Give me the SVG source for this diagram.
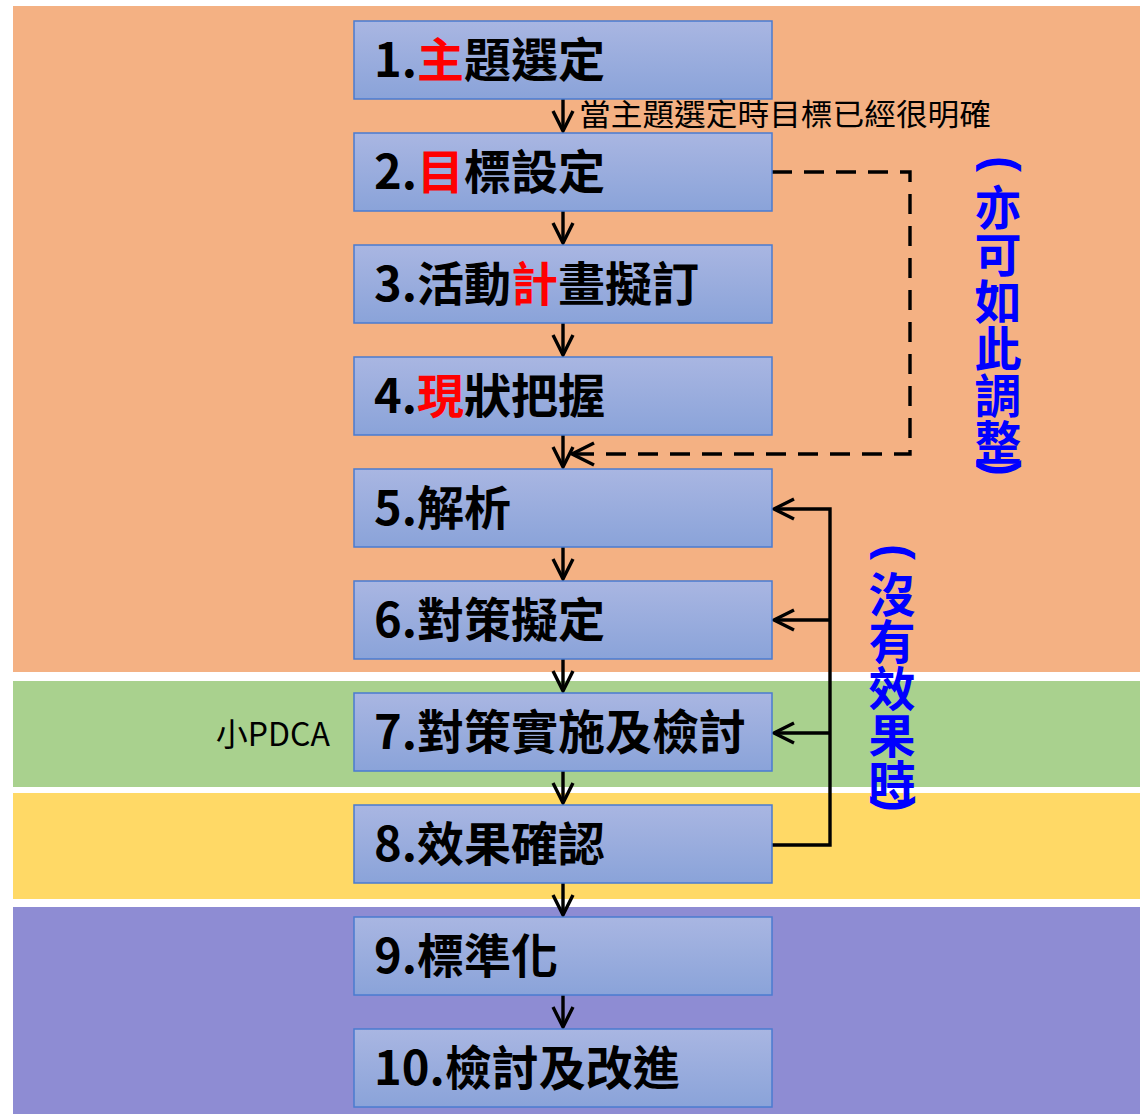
<svg xmlns="http://www.w3.org/2000/svg" width="1140" height="1114" viewBox="0 0 1140 1114">
<defs>
<linearGradient id="boxg" x1="0" y1="0" x2="0" y2="1">
<stop offset="0" stop-color="#a9b6e2"/>
<stop offset="1" stop-color="#8aa3d9"/>
</linearGradient>
<marker id="arr" viewBox="-24 -14 28 28" markerWidth="28" markerHeight="28" refX="0" refY="0" orient="auto" markerUnits="userSpaceOnUse">
<path d="M-20 -10 L0 0 L-20 10" fill="none" stroke="#000" stroke-width="3.4" stroke-dasharray="none" stroke-linejoin="miter"/>
</marker>
<marker id="arrd" viewBox="-26 -14 30 28" markerWidth="30" markerHeight="28" refX="0" refY="0" orient="auto" markerUnits="userSpaceOnUse">
<path d="M-22 -11 L0 0 L-22 11" fill="none" stroke="#000" stroke-width="3.4" stroke-dasharray="none"/>
</marker>
</defs>
<style>
.box{fill:url(#boxg);stroke:#4a7bd0;stroke-width:1.5}
.lbl{font-family:"Noto Sans CJK TC","Noto Sans CJK SC",sans-serif;font-size:47px;font-weight:700;fill:#000}
.red{fill:#ff0000}
.note{font-family:"Noto Sans CJK TC","Noto Sans CJK SC",sans-serif;font-size:30px;fill:#000}
.pdca{font-family:"Noto Sans CJK TC","Noto Sans CJK SC",sans-serif;font-size:32px;fill:#000}
.vt{font-family:"Noto Sans CJK TC","Noto Sans CJK SC",sans-serif;font-size:47px;font-weight:700;fill:#0000ff;writing-mode:vertical-rl}
.par{font-family:"Liberation Sans",Arial,sans-serif;font-size:48px;font-weight:700;fill:#0000ff}
.ln{fill:none;stroke:#000;stroke-width:3.4}
</style>
<rect width="1140" height="1114" fill="#ffffff"/>
<g id="bands">
<rect x="13" y="6" width="1127" height="666" fill="#f4b183"/>
<rect x="13" y="681" width="1127" height="106" fill="#a9d18e"/>
<rect x="13" y="793" width="1127" height="106" fill="#ffd966"/>
<rect x="13" y="907" width="1127" height="207" fill="#8e8cd3"/>
</g>
<g id="connectors">
<path class="ln" d="M563 99 V131" marker-end="url(#arr)"/>
<path class="ln" d="M563 211 V243" marker-end="url(#arr)"/>
<path class="ln" d="M563 323 V355" marker-end="url(#arr)"/>
<path class="ln" d="M563 435 V467" marker-end="url(#arr)"/>
<path class="ln" d="M563 547 V579" marker-end="url(#arr)"/>
<path class="ln" d="M563 659 V691" marker-end="url(#arr)"/>
<path class="ln" d="M563 771 V803" marker-end="url(#arr)"/>
<path class="ln" d="M563 883 V915" marker-end="url(#arr)"/>
<path class="ln" d="M563 995 V1027" marker-end="url(#arr)"/>
<path class="ln" d="M772 172 H910 V454 H572" stroke-dasharray="20 12" marker-end="url(#arrd)"/>
<path class="ln" d="M772 845 H830 V509 H774" stroke-width="3.8" marker-end="url(#arr)"/>
<path class="ln" d="M830 620 H774" stroke-width="3.8" marker-end="url(#arr)"/>
<path class="ln" d="M830 733 H774" stroke-width="3.8" marker-end="url(#arr)"/>
</g>
<g id="n1"><rect class="box" x="354" y="21" width="418" height="78"/><text class="lbl" x="374" y="77">1.<tspan class="red">主</tspan>題選定</text></g>
<g id="n2"><rect class="box" x="354" y="133" width="418" height="78"/><text class="lbl" x="374" y="189">2.<tspan class="red">目</tspan>標設定</text></g>
<g id="n3"><rect class="box" x="354" y="245" width="418" height="78"/><text class="lbl" x="374" y="301">3.活動<tspan class="red">計</tspan>畫擬訂</text></g>
<g id="n4"><rect class="box" x="354" y="357" width="418" height="78"/><text class="lbl" x="374" y="413">4.<tspan class="red">現</tspan>狀把握</text></g>
<g id="n5"><rect class="box" x="354" y="469" width="418" height="78"/><text class="lbl" x="374" y="525">5.解析</text></g>
<g id="n6"><rect class="box" x="354" y="581" width="418" height="78"/><text class="lbl" x="374" y="637">6.對策擬定</text></g>
<g id="n7"><rect class="box" x="354" y="693" width="418" height="78"/><text class="lbl" x="374" y="749">7.對策實施及檢討</text></g>
<g id="n8"><rect class="box" x="354" y="805" width="418" height="78"/><text class="lbl" x="374" y="861">8.效果確認</text></g>
<g id="n9"><rect class="box" x="354" y="917" width="418" height="78"/><text class="lbl" x="374" y="973">9.標準化</text></g>
<g id="n10"><rect class="box" x="354" y="1029" width="418" height="78"/><text class="lbl" x="374" y="1085">10.檢討及改進</text></g>
<g id="labels">
<text class="note" x="579" y="125" textLength="412" lengthAdjust="spacingAndGlyphs">當主題選定時目標已經很明確</text>
<text class="pdca" x="330" y="746" text-anchor="end">小PDCA</text>
<text class="par" transform="translate(985.5 156) rotate(90)">(</text>
<text class="vt" x="998" y="184">亦可如此調整</text>
<text class="par" transform="translate(985.5 460) rotate(90)">)</text>
<text class="par" transform="translate(879.5 544) rotate(90)">(</text>
<text class="vt" x="892" y="571">沒有效果時</text>
<text class="par" transform="translate(879.5 796) rotate(90)">)</text>
</g>
</svg>
